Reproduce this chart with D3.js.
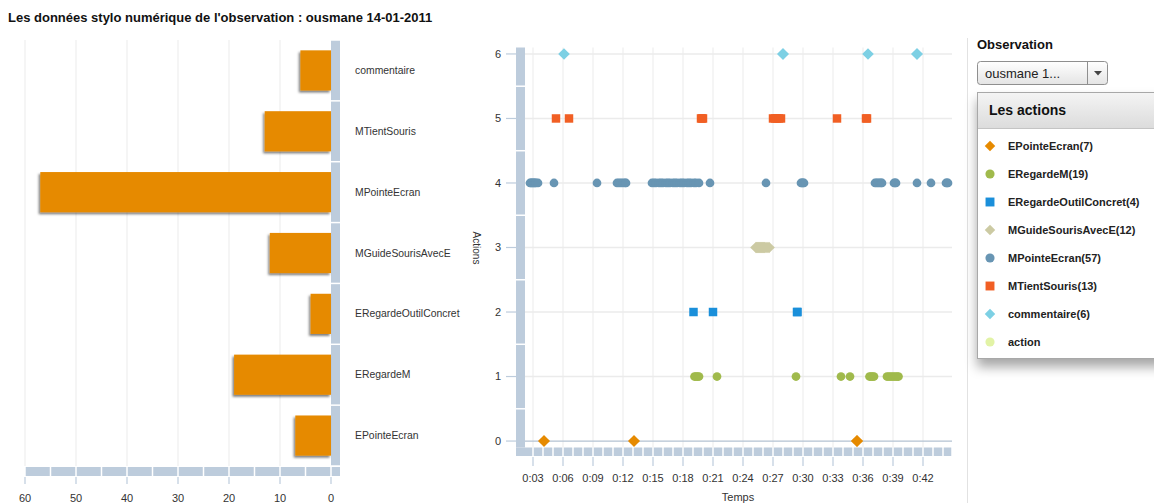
<!DOCTYPE html>
<html><head><meta charset="utf-8">
<script src="https://cdn.jsdelivr.net/npm/d3@7"></script>
<style>
html,body{margin:0;padding:0;background:#fff;overflow:hidden;}
svg{display:block;font-family:Arial,"Liberation Sans",Helvetica,sans-serif;}
</style></head>
<body>
<svg id="chart" width="1154" height="503"></svg>
<script>
// ---------- data ----------
const categories = ["EPointeEcran","ERegardeM","ERegardeOutilConcret","MGuideSourisAvecE","MPointeEcran","MTientSouris","commentaire"];
const counts = [7,19,4,12,57,13,6];
const colors = ["#E68A00","#A0BA4C","#1A8FDA","#CCCAA3","#6895B3","#F15F24","#7DD0E4"];
const shapes = ["diamond","circle","square","diamond","circle","square","diamond"];
const countTicks = [0,10,20,30,40,50,60];
const timeTicks = [3,6,9,12,15,18,21,24,27,30,33,36,39,42];
const actionTicks = [0,1,2,3,4,5,6];

// event times (minutes) per action
const tEPointeEcran = [4.1,4.1,13.1,13.1,35.4,35.4,35.4];
const tERegardeM = [19.15,19.3,19.45,19.6,21.4,29.3,33.8,34.7,36.65,36.8,36.95,37.1,38.4,38.6,38.8,39.0,39.2,39.4,39.55];
const tERegardeOutilConcret = [19.05,21.0,29.4,29.45];
const tMGuideSourisAvecE = [25.3,25.4,25.5,25.6,25.7,25.8,25.9,26.0,26.1,26.2,26.4,26.6];
const tMPointeEcran = [2.7,2.8,2.9,3.0,3.1,3.2,3.3,3.5,5.1,9.4,11.4,11.6,11.8,12.0,12.2,12.3,
  14.9,15.1,15.3,15.6,15.8,16.0,16.3,16.5,16.7,17.0,17.2,17.4,17.7,17.9,18.1,18.4,18.6,18.8,19.1,19.3,19.6,
  20.7,26.3,29.8,29.9,30.0,30.1,37.2,37.35,37.5,37.65,37.8,37.9,39.1,39.2,39.3,41.4,42.8,44.3,44.4,44.5];
const tMTientSouris = [5.3,6.6,19.8,19.9,20.0,27.0,27.2,27.4,27.6,27.8,33.4,36.3,36.4];
const tCommentaire = [6.1,28.0,28.0,36.5,41.4,41.4];
const times = [tEPointeEcran,tERegardeM,tERegardeOutilConcret,tMGuideSourisAvecE,tMPointeEcran,tMTientSouris,tCommentaire];

const title = "Les données stylo numérique de l'observation : ousmane 14-01-2011";

// ---------- setup ----------
const svg = d3.select("#chart");
const defs = svg.append("defs");
const f = defs.append("filter").attr("id","barShadow").attr("x","-20%").attr("y","-20%").attr("width","140%").attr("height","150%");
f.append("feDropShadow").attr("dx",-1.5).attr("dy",2).attr("stdDeviation",1.3).attr("flood-color","#000").attr("flood-opacity",0.5);
const f2 = defs.append("filter").attr("id","boxShadow").attr("x","-20%").attr("y","-20%").attr("width","140%").attr("height","150%");
f2.append("feDropShadow").attr("dx",0).attr("dy",8).attr("stdDeviation",6).attr("flood-color","#000").attr("flood-opacity",0.35);
const g1 = defs.append("linearGradient").attr("id","hdrGrad").attr("x1",0).attr("y1",0).attr("x2",0).attr("y2",1);
g1.append("stop").attr("offset","0%").attr("stop-color","#f4f4f4");
g1.append("stop").attr("offset","100%").attr("stop-color","#dcdcdc");
const g2 = defs.append("linearGradient").attr("id","ddGrad").attr("x1",0).attr("y1",0).attr("x2",0).attr("y2",1);
g2.append("stop").attr("offset","0%").attr("stop-color","#ffffff");
g2.append("stop").attr("offset","100%").attr("stop-color","#e4e4e4");

const bandColor = "#BDCCDC";
const gridColor = "#EBEBEB";

svg.append("text").attr("x",8).attr("y",22).attr("font-size",13).attr("font-weight","bold").attr("fill","#111").text(title);

// ---------- left bar chart ----------
const xL = d3.scaleLinear().domain([60,0]).range([25,331]);
const catsTop = categories.slice().reverse();
const yBand = d3.scaleBand().domain(catsTop).range([40,466]).padding(0);
const yBar = d3.scaleBand().domain(catsTop).range([40,466]).paddingInner(0.34).paddingOuter(0.17);

const left = svg.append("g");
left.selectAll("line.vg").data(countTicks.filter(d=>d>0)).join("line")
  .attr("x1",d=>xL(d)).attr("x2",d=>xL(d)).attr("y1",40).attr("y2",466)
  .attr("stroke",gridColor).attr("stroke-width",1);

// horizontal axis band with segments every 5
const segs = d3.range(0,60,5);
left.selectAll("rect.hs").data(segs).join("rect")
  .attr("x",d=>xL(d+5)+0.75).attr("y",467).attr("width",d=>xL(d)-xL(d+5)-1.5).attr("height",9)
  .attr("fill",bandColor);
left.append("rect").attr("x",xL(0)+0.75).attr("y",467).attr("width",340-xL(0)-0.75).attr("height",9).attr("fill",bandColor);
// tick marks and labels
left.selectAll("line.tk").data(countTicks).join("line")
  .attr("x1",d=>xL(d)).attr("x2",d=>xL(d)).attr("y1",477).attr("y2",484)
  .attr("stroke",bandColor).attr("stroke-width",1.2);
left.selectAll("text.tl").data(countTicks).join("text")
  .attr("x",d=>xL(d)).attr("y",502).attr("text-anchor","middle").attr("font-size",11).attr("fill","#333").text(d=>d);

// vertical band with category separators
left.selectAll("rect.vs").data(catsTop).join("rect")
  .attr("x",331).attr("y",d=>yBand(d)+0.75).attr("width",9).attr("height",yBand.bandwidth()-1.5)
  .attr("fill",bandColor);

// bars
left.selectAll("rect.bar").data(catsTop).join("rect")
  .attr("x",d=>xL(counts[categories.indexOf(d)])).attr("y",d=>yBar(d))
  .attr("width",d=>xL(0)-xL(counts[categories.indexOf(d)])).attr("height",yBar.bandwidth())
  .attr("fill","#E68A00").attr("filter","url(#barShadow)");

left.selectAll("text.cl").data(catsTop).join("text")
  .attr("x",355).attr("y",d=>yBand(d)+yBand.bandwidth()/2).attr("dy","0.35em")
  .attr("font-size",10.4).attr("fill","#333").text(d=>d);

// ---------- scatter ----------
const xS = d3.scaleLinear().domain([2.2,44.9]).range([525,952]);
const yS = d3.scaleLinear().domain([-0.1,6.1]).range([447.5,47.5]);
const sc = svg.append("g");

sc.selectAll("line.vg").data(timeTicks).join("line")
  .attr("x1",d=>xS(d)).attr("x2",d=>xS(d)).attr("y1",47.5).attr("y2",447.5)
  .attr("stroke",gridColor);
sc.selectAll("line.hg").data(actionTicks.filter(d=>d>0)).join("line")
  .attr("x1",525).attr("x2",952).attr("y1",d=>yS(d)).attr("y2",d=>yS(d))
  .attr("stroke",gridColor).attr("stroke-width",1.5);
sc.append("line").attr("x1",525).attr("x2",952).attr("y1",yS(0)).attr("y2",yS(0))
  .attr("stroke","#B3C2D2").attr("stroke-width",1.2);

// y band segments at half units
const yEdges = [6.1,5.5,4.5,3.5,2.5,1.5,0.5,-0.1];
sc.selectAll("rect.ys").data(d3.range(yEdges.length-1)).join("rect")
  .attr("x",516).attr("y",i=>yS(yEdges[i])+(i===0?0:0.75)).attr("width",9)
  .attr("height",i=>yS(yEdges[i+1])-yS(yEdges[i])-(i===0?0.75:(i===yEdges.length-2?0.75:1.5)))
  .attr("fill",bandColor);
// x band segments every minute
sc.append("rect").attr("x",516).attr("y",447.5).attr("width",xS(3)-516-0.75).attr("height",8.5).attr("fill",bandColor);
sc.selectAll("rect.xs").data(d3.range(3,45)).join("rect")
  .attr("x",d=>xS(d)+0.75).attr("y",447.5).attr("width",d=>Math.min(xS(d+1),952)-xS(d)-1.5).attr("height",8.5)
  .attr("fill",bandColor);

// ticks
sc.selectAll("line.xt").data(timeTicks).join("line")
  .attr("x1",d=>xS(d)).attr("x2",d=>xS(d)).attr("y1",457).attr("y2",466)
  .attr("stroke",bandColor).attr("stroke-width",1.2);
sc.selectAll("text.xl").data(timeTicks).join("text")
  .attr("x",d=>xS(d)).attr("y",482).attr("text-anchor","middle").attr("font-size",11).attr("fill","#333")
  .text(d=>"0:"+String(d).padStart(2,"0"));
sc.selectAll("line.yt").data(actionTicks).join("line")
  .attr("x1",506).attr("x2",516).attr("y1",d=>yS(d)).attr("y2",d=>yS(d))
  .attr("stroke",bandColor).attr("stroke-width",1.2);
sc.selectAll("text.yl").data(actionTicks).join("text")
  .attr("x",501).attr("y",d=>yS(d)).attr("dy","0.35em").attr("text-anchor","end").attr("font-size",11).attr("fill","#333")
  .text(d=>d);
sc.append("text").attr("x",738).attr("y",501).attr("text-anchor","middle").attr("font-size",11).attr("fill","#333").text("Temps");
sc.append("text").attr("transform","translate(473,248) rotate(90)").attr("text-anchor","middle")
  .attr("font-size",10).attr("fill","#333").text("Actions");

// symbol paths
function symPath(shape, scale){
  const k = scale||1;
  if(shape==="circle") return d3.symbol(d3.symbolCircle, 60*k*k)();
  if(shape==="square") return d3.symbol(d3.symbolSquare, 72*k*k)();
  const s = 5.8*k; return `M0,${-s}L${s},0L0,${s}L${-s},0Z`;
}
const pts = [];
times.forEach((arr,i)=>arr.forEach(t=>pts.push({i,t})));
sc.selectAll("path.pt").data(pts).join("path")
  .attr("transform",d=>`translate(${xS(d.t)},${yS(d.i)})`)
  .attr("d",d=>symPath(shapes[d.i]))
  .attr("fill",d=>colors[d.i]);

// ---------- right panel ----------
const rp = svg.append("g");
rp.append("line").attr("x1",967.5).attr("x2",967.5).attr("y1",38).attr("y2",503).attr("stroke","#e2e2e2");
rp.append("text").attr("x",977).attr("y",49).attr("font-size",13).attr("font-weight","bold").attr("fill","#111").text("Observation");
rp.append("rect").attr("x",977.5).attr("y",61.5).attr("width",130).attr("height",23).attr("rx",3)
  .attr("fill","url(#ddGrad)").attr("stroke","#8f8f8f");
rp.append("line").attr("x1",1087.5).attr("x2",1087.5).attr("y1",62).attr("y2",84).attr("stroke","#8f8f8f");
rp.append("path").attr("d","M1094,71L1102,71L1098,75.5Z").attr("fill","#444");
rp.append("text").attr("x",985).attr("y",78).attr("font-size",13).attr("fill","#222").text("ousmane 1...");

rp.append("rect").attr("x",977.5).attr("y",92.5).attr("width",200).attr("height",266)
  .attr("fill","#fff").attr("stroke","#a8a8a8").attr("filter","url(#boxShadow)");
rp.append("rect").attr("x",978).attr("y",93).attr("width",199).attr("height",35).attr("fill","url(#hdrGrad)");
rp.append("line").attr("x1",978).attr("x2",1160).attr("y1",128.5).attr("y2",128.5).attr("stroke","#c4c4c4");
rp.append("text").attr("x",989).attr("y",115).attr("font-size",14).attr("font-weight","bold").attr("fill","#111").text("Les actions");

const legendItems = categories.map((c,i)=>({label:`${c}(${counts[i]})`, color:colors[i], shape:shapes[i]}))
  .concat([{label:"action", color:"#E2F3A6", shape:"circle"}]);
const lg = rp.selectAll("g.li").data(legendItems).join("g")
  .attr("transform",(d,i)=>`translate(990,${146+i*28})`);
lg.append("path").attr("d",d=>symPath(d.shape, d.shape==="diamond"?0.9:1.05)).attr("fill",d=>d.color);
lg.append("text").attr("x",18).attr("dy","0.35em").attr("font-size",11).attr("font-weight","bold").attr("fill","#222").text(d=>d.label);
</script>
</body></html>
